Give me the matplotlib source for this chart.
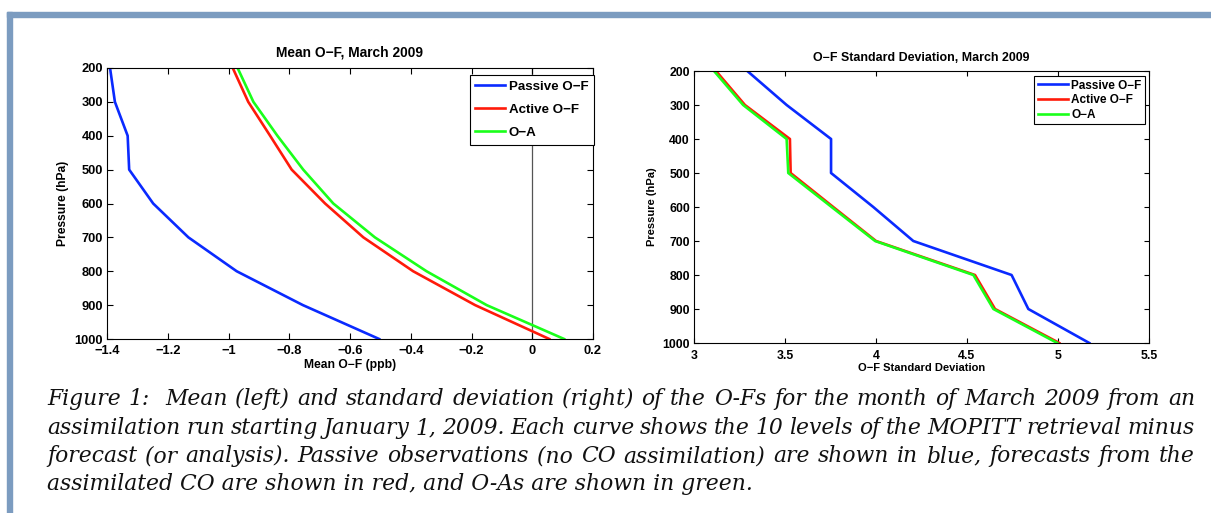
import matplotlib
matplotlib.use('Agg')
import matplotlib.pyplot as plt
from matplotlib.patches import Rectangle
from matplotlib.font_manager import FontProperties

W, H = 1211, 513

# ---------------- data ----------------
pressure = [200, 300, 400, 500, 600, 700, 800, 900, 1000]

mean_passive = [-1.39, -1.374, -1.332, -1.327, -1.248, -1.132, -0.973, -0.755, -0.504]
mean_active = [-0.986, -0.935, -0.863, -0.792, -0.682, -0.556, -0.392, -0.188, 0.056]
mean_oa = [-0.970, -0.918, -0.839, -0.754, -0.655, -0.518, -0.348, -0.150, 0.105]

std_passive = [3.293, 3.509, 3.753, 3.753, 3.985, 4.205, 4.745, 4.837, 5.172]
std_active = [3.121, 3.28, 3.527, 3.531, 3.765, 4.000, 4.544, 4.654, 5.007]
std_oa = [3.110, 3.27, 3.509, 3.518, 3.756, 3.995, 4.535, 4.645, 4.996]

series_labels = ["Passive O\u2212F", "Active O\u2212F", "O\u2212A"]
series_colors = ["#0a2aff", "#ff1a0a", "#1aff1a"]

left_title = "Mean O\u2212F, March 2009"
left_xlabel = "Mean O\u2212F (ppb)"
right_title = "O\u2212F Standard Deviation, March 2009"
right_xlabel = "O\u2212F Standard Deviation"
ylabel = "Pressure (hPa)"

left_xticks = [-1.4, -1.2, -1.0, -0.8, -0.6, -0.4, -0.2, 0.0, 0.2]
left_xticklabels = ["\u22121.4", "\u22121.2", "\u22121", "\u22120.8", "\u22120.6",
                    "\u22120.4", "\u22120.2", "0", "0.2"]
right_xticks = [3, 3.5, 4, 4.5, 5, 5.5]
right_xticklabels = ["3", "3.5", "4", "4.5", "5", "5.5"]
yticks = [200, 300, 400, 500, 600, 700, 800, 900, 1000]

caption_lines = [
    "Figure 1:  Mean (left) and standard deviation (right) of the O-Fs for the month of March 2009 from an",
    "assimilation run starting January 1, 2009. Each curve shows the 10 levels of the MOPITT retrieval minus",
    "forecast (or analysis). Passive observations (no CO assimilation) are shown in blue, forecasts from the",
    "assimilated CO are shown in red, and O-As are shown in green.",
]

# ---------------- figure ----------------
fig = plt.figure(figsize=(W / 100, H / 100), dpi=100)
fig.patch.set_facecolor('white')

def rect(l, t, r, b):
    return [l / W, 1 - b / H, (r - l) / W, (b - t) / H]

border_col = '#7c9cc0'
fig.patches.append(Rectangle((7 / W, 1 - 17 / H), (W - 7) / W, 5 / H,
                             transform=fig.transFigure, color=border_col, zorder=0))
fig.patches.append(Rectangle((7 / W, 0), 5 / W, 1 - 12 / H,
                             transform=fig.transFigure, color=border_col, zorder=0))

sans = 'Liberation Sans'

def style_axes(ax, fs, tick_len, xpad):
    for s in ax.spines.values():
        s.set_linewidth(0.8)
        s.set_color('black')
    ax.tick_params(direction='in', top=True, right=True, length=tick_len, width=0.8,
                   labelsize=fs, pad=3)
    ax.tick_params(axis='x', pad=xpad)
    for lab in ax.get_xticklabels() + ax.get_yticklabels():
        lab.set_fontfamily(sans)
        lab.set_fontweight('bold')

# Left panel
ax1 = fig.add_axes(rect(107, 68, 593, 339))
for vals, lab, col in zip([mean_passive, mean_active, mean_oa], series_labels, series_colors):
    ax1.plot(vals, pressure, color=col, lw=1.9, label=lab)
ax1.axvline(0, color='#555555', lw=0.9, zorder=1)
ax1.set_xlim(-1.4, 0.2)
ax1.set_ylim(1000, 200)
ax1.set_xticks(left_xticks)
ax1.set_xticklabels(left_xticklabels)
ax1.set_yticks(yticks)
style_axes(ax1, 9.3, 4, 4)
ax1.set_title(left_title, fontsize=9.9, fontweight='bold', family=sans, pad=8)
ax1.set_xlabel(left_xlabel, fontsize=8.7, fontweight='bold', family=sans, labelpad=1.5)
ax1.set_ylabel(ylabel, fontsize=8.7, fontweight='bold', family=sans, labelpad=4)
leg1 = ax1.legend(loc='upper right', bbox_to_anchor=(594 / W, 1 - 75 / H),
                  bbox_transform=fig.transFigure, fancybox=False, framealpha=1,
                  edgecolor='black', borderaxespad=0, borderpad=0.42,
                  handlelength=2.25, handletextpad=0.25, labelspacing=0.8,
                  prop=FontProperties(family=sans, weight='bold', size=9.6))
leg1.get_frame().set_linewidth(0.8)

# Right panel
ax2 = fig.add_axes(rect(694, 71, 1149, 343))
for vals, lab, col in zip([std_passive, std_active, std_oa], series_labels, series_colors):
    ax2.plot(vals, pressure, color=col, lw=1.9, label=lab)
ax2.set_xlim(3, 5.5)
ax2.set_ylim(1000, 200)
ax2.set_xticks(right_xticks)
ax2.set_xticklabels(right_xticklabels)
ax2.set_yticks(yticks)
style_axes(ax2, 8.8, 3.5, 5)
ax2.set_title(right_title, fontsize=8.9, fontweight='bold', family=sans, pad=7)
ax2.set_xlabel(right_xlabel, fontsize=8.0, fontweight='bold', family=sans, labelpad=1)
ax2.set_ylabel(ylabel, fontsize=8.0, fontweight='bold', family=sans, labelpad=4)
leg2 = ax2.legend(loc='upper right', bbox_to_anchor=(1145 / W, 1 - 76 / H),
                  bbox_transform=fig.transFigure, fancybox=False, framealpha=1,
                  edgecolor='black', borderaxespad=0, borderpad=0.3,
                  handlelength=2.6, handletextpad=0.25, labelspacing=0.22,
                  prop=FontProperties(family=sans, weight='bold', size=8.5))
leg2.get_frame().set_linewidth(0.8)

# ---------------- caption (justified) ----------------
renderer = fig.canvas.get_renderer()
cap_font = dict(family='DejaVu Serif', style='italic')
x_left, x_right = 47, 1195
last_end = 733

def text_width(s, size):
    t = fig.text(0, 0, s, fontsize=size, **cap_font)
    w = t.get_window_extent(renderer).width
    t.remove()
    return w

ref_w = text_width(caption_lines[-1], 20)
cap_size = 1.025 * 20 * (last_end - x_left) / ref_w
baselines = [405, 434, 462, 490]

for i, (line, yb) in enumerate(zip(caption_lines, baselines)):
    yfig = 1 - yb / H
    if i == len(caption_lines) - 1:
        fig.text(x_left / W, yfig, line, fontsize=cap_size, va='baseline',
                 color='#111111', **cap_font)
        continue
    words = line.split(' ')
    widths = [text_width(w, cap_size) if w else 0 for w in words]
    gap = (x_right - x_left - sum(widths)) / (len(words) - 1)
    x = x_left
    for w, wd in zip(words, widths):
        if w:
            fig.text(x / W, yfig, w, fontsize=cap_size, va='baseline',
                     color='#111111', **cap_font)
        x += wd + gap

fig.savefig('out.png', dpi=100)
